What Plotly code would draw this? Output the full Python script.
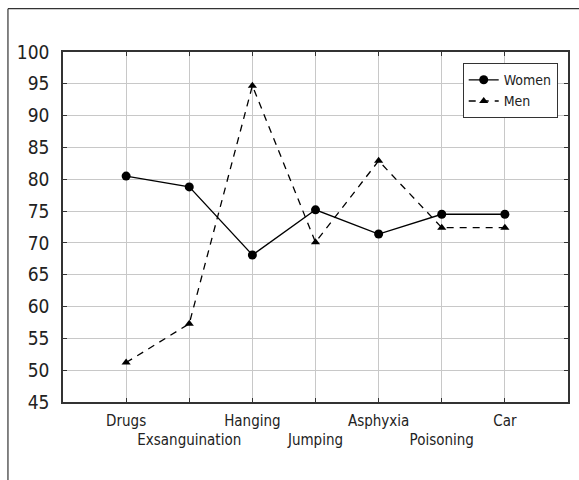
import plotly.graph_objects as go

categories = ["Drugs", "Exsanguination", "Hanging", "Jumping", "Asphyxia", "Poisoning", "Car"]
women = [80.5, 78.8, 68.1, 75.2, 71.4, 74.5, 74.5]
men = [51.2, 57.3, 94.7, 70.1, 82.9, 72.4, 72.4]
y_ticks = list(range(45, 101, 5))

# alternate tick labels on two rows
tick_text = [c if i % 2 == 0 else "<br>" + c for i, c in enumerate(categories)]

FONT = "Liberation Sans Narrow, DejaVu Sans Condensed, Arial Narrow, sans-serif"
INK = "#222222"

fig = go.Figure()
fig.add_trace(go.Scatter(
    x=categories, y=women, name="Women", mode="lines+markers",
    line=dict(color="black", width=1.3),
    marker=dict(symbol="circle", size=9, color="black"),
))
fig.add_trace(go.Scatter(
    x=categories, y=men, name="Men", mode="lines+markers",
    line=dict(color="black", width=1.3, dash="7px,6px"),
    marker=dict(symbol="triangle-up", size=8, color="black"),
))

axis_common = dict(
    showline=True, linecolor="#333333", linewidth=1.5, mirror="ticks",
    ticks="inside", ticklen=4, tickcolor="#333333", tickwidth=1.2,
    showgrid=True, gridcolor="#c8c8c8", gridwidth=1.2, zeroline=False,
)

fig.update_xaxes(
    type="category", range=[-1, 7], tickmode="array",
    tickvals=categories, ticktext=tick_text, tickangle=0,
    tickfont=dict(family=FONT, size=15, color=INK),
    ticklabelstandoff=4,
    **axis_common,
)
fig.update_yaxes(
    range=[45, 100], tickmode="array", tickvals=y_ticks,
    tickfont=dict(family=FONT, size=19, color=INK),
    ticklabelstandoff=8,
    **axis_common,
)

frame = dict(color="#333333", width=1.2)
fig.update_layout(
    width=579, height=480,
    margin=dict(l=63, r=11, t=52, b=78, autoexpand=False),
    paper_bgcolor="white", plot_bgcolor="white",
    font=dict(family=FONT, color=INK),
    showlegend=True,
    legend=dict(
        x=0.7915, y=0.968, xanchor="left", yanchor="top",
        bgcolor="white", bordercolor="#333333", borderwidth=1,
        font=dict(family=FONT, size=14, color=INK),
        itemwidth=30, tracegroupgap=0,
    ),
    shapes=[
        dict(type="line", xref="paper", yref="paper",
             x0=-0.109, x1=1.03, y0=1.1238, y1=1.1238, line=frame, layer="below"),
        dict(type="line", xref="paper", yref="paper",
             x0=-0.109, x1=-0.109, y0=-0.23, y1=1.1238, line=frame, layer="below"),
    ],
)

fig.write_html(
    "out.html",
    config={"displayModeBar": False},
    post_script=(
        "document.body.style.margin='0';document.body.style.padding='0';"
        "document.body.style.overflow='hidden';"
        "document.documentElement.style.overflow='hidden';"
    ),
)
